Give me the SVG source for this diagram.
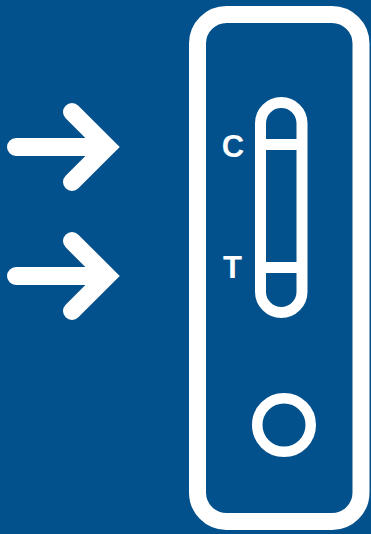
<svg xmlns="http://www.w3.org/2000/svg" width="371" height="534" viewBox="0 0 371 534">
<style>
.w{fill:none;stroke:#fff}
.arr{fill:none;stroke:#fff;stroke-width:18;stroke-linecap:round;stroke-linejoin:miter}
.lbl{fill:#fff;font-family:"Liberation Sans",Arial,sans-serif;font-weight:bold;font-size:31px}
</style>
<rect width="371" height="534" fill="#03518c"/>
<g id="arrow1"><path class="arr" d="M16 147H106M72 112L107 147L72 182"/></g>
<g id="arrow2"><path class="arr" d="M16 276H106M72 241L107 276L72 311"/></g>
<g id="cassette"><rect class="w" x="197.5" y="14.5" width="163.5" height="507" rx="29" stroke-width="17"/></g>
<g id="strip">
<rect class="w" x="260.5" y="102.5" width="41.5" height="210" rx="20.75" stroke-width="11"/>
<rect x="260" y="139" width="42" height="11" fill="#fff"/>
<rect x="260" y="262" width="42" height="11" fill="#fff"/>
</g>
<g id="labelC"><text class="lbl" x="233" y="157" text-anchor="middle">C</text></g>
<g id="labelT"><text class="lbl" x="232.5" y="278" text-anchor="middle">T</text></g>
<g id="well"><circle class="w" cx="284" cy="425" r="26.75" stroke-width="10.5"/></g>
</svg>
